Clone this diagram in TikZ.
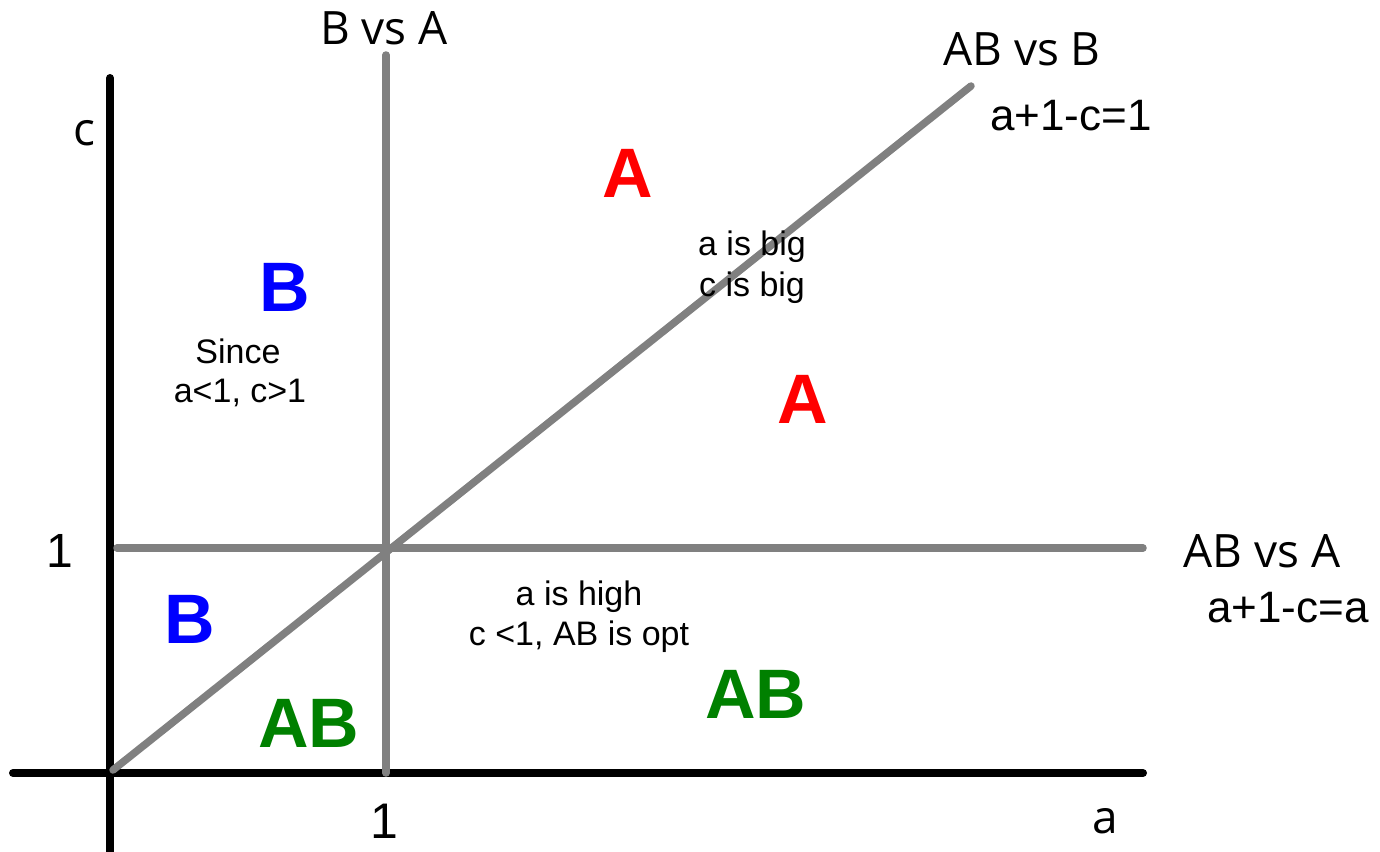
\documentclass[tikz,border=0pt]{standalone}
\usepackage{fontspec}
\setmainfont{Liberation Sans}
\newfontfamily\labelfont{Open Sans}
\usepackage{xcolor}
\usetikzlibrary{positioning}
\definecolor{divgray}{RGB}{128,128,128}
\definecolor{regred}{RGB}{255,0,0}
\definecolor{regblue}{RGB}{0,0,255}
\definecolor{reggreen}{RGB}{0,128,0}

\begin{document}
\begin{tikzpicture}[
  x=1pt, y=-1pt,
  axisline/.style={line width=8pt, line cap=round, black},
  splitline/.style={line width=7.5pt, line cap=round, divgray},
  axislabel/.style={font=\labelfont\fontsize{46}{52}\selectfont, inner sep=0pt, anchor=base},
  formula/.style={font=\fontsize{44}{50}\selectfont, inner sep=0pt, anchor=base},
  region/.style={font=\bfseries\fontsize{70}{80}\selectfont, inner sep=0pt, anchor=base},
  note/.style={font=\fontsize{34}{41}\selectfont, inner sep=0pt, anchor=base}
]
  \useasboundingbox (0,0) rectangle (1380,851);
  % axes
  \draw[axisline] (110,78) -- (110,870);
  \draw[axisline] (13,773) -- (1143,773);
  % boundaries between the regions
  \draw[splitline] (386,55) -- (386,773);
  \draw[splitline] (117,548) -- (1143,548);
  \draw[splitline] (113,770) -- (971,86);

  % boundary labels
  \node[axislabel] (bvsa) at (384,45) {B vs A};
  \node[axislabel] (abvsb) at (1022,66) {AB vs B};
  \node[formula] (eqb) at (1071,130) {a+1-c=1};
  \node[axislabel] (abvsa) at (1262,567) {AB vs A};
  \node[formula] (eqa) at (1288,622) {a+1-c=a};

  % axis labels
  \node[axislabel] (clabel) at (84,145) {c};
  \node[axislabel] (alabel) at (1105,833) {a};
  \node[formula, font=\fontsize{48}{52}\selectfont] (cone) at (60,567) {1};
  \node[formula, font=\fontsize{50}{54}\selectfont] (aone) at (384,838) {1};

  % optimal choice in each region
  \node[region, regred] (topA) at (628,197) {A};
  \node[region, regred] (midA) at (803,423) {A};
  \node[region, regblue] (topB) at (285,311) {B};
  \node[region, regblue] (lowB) at (190,643) {B};
  \node[region, reggreen] (lowAB) at (309,747) {AB};
  \node[region, reggreen] (rightAB) at (756,718) {AB};

  % notes
  \node[note] (since) at (238,363) {Since};
  \node[note] (sincecond) at (240,402) {a<1, c>1};
  \node[note] (bigA) at (752,255) {a is big};
  \node[note] (bigC) at (752,296) {c is big};
  \node[note] (highA) at (579,605) {a is high};
  \node[note] (optAB) at (579,645) {c <1, AB is opt};
\end{tikzpicture}
\end{document}
